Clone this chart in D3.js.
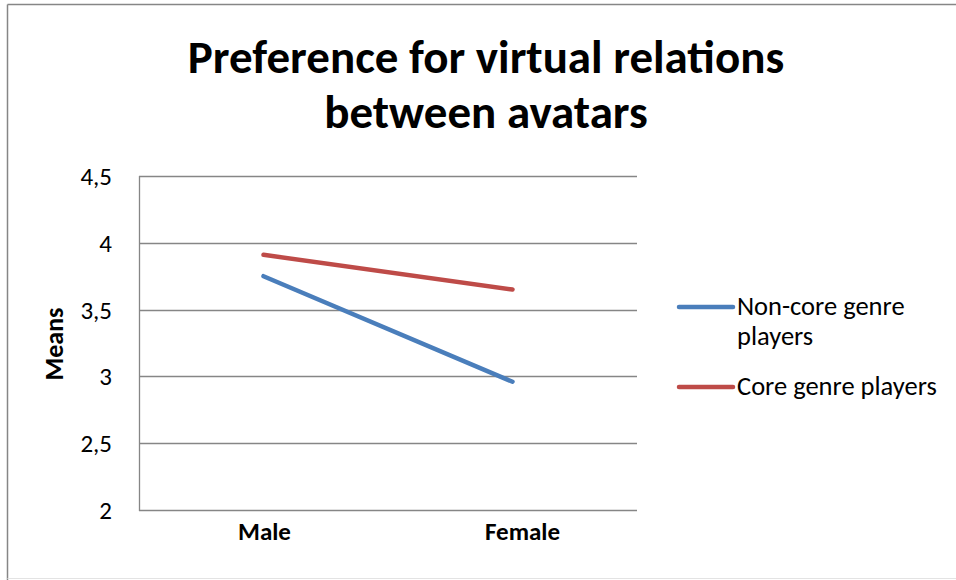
<!DOCTYPE html>
<html>
<head>
<meta charset="utf-8">
<script src="https://cdn.jsdelivr.net/npm/d3@7"></script>
<style>
  body { margin: 0; background: #fff; }
  text { font-family: Carlito, Calibri, Lato, sans-serif; fill: #000; }
</style>
</head>
<body>
<div class="lineChart"></div>
<script>
// chart data
let categories = ["Male", "Female"];
let nonCore = [3.75, 2.96];
let core = [3.91, 3.65];
let seriesNames = ["Non-core genre players", "Core genre players"];
let yTicks = [2, 2.5, 3, 3.5, 4, 4.5];

let width = 956;
let height = 580;

let svg = d3.select(".lineChart")
  .append("svg")
  .attr("width", width)
  .attr("height", height);

// chart frame (cropped on right side)
svg.append("line")
  .attr("x1", 7.5).attr("y1", 4.5).attr("x2", width).attr("y2", 4.5)
  .style("stroke", "#868686").style("stroke-width", 1.5);
svg.append("line")
  .attr("x1", 7.5).attr("y1", 4.5).attr("x2", 7.5).attr("y2", height)
  .style("stroke", "#868686").style("stroke-width", 1.5);
svg.append("line")
  .attr("x1", 7.5).attr("y1", 578.5).attr("x2", width).attr("y2", 578.5)
  .style("stroke", "#e3e3e3").style("stroke-width", 1);

// title
svg.append("text")
  .attr("text-anchor", "middle")
  .attr("x", 486)
  .attr("y", 73)
  .attr("font-size", 47)
  .attr("font-weight", "bold")
  .text("Preference for virtual relations");
svg.append("text")
  .attr("text-anchor", "middle")
  .attr("x", 486)
  .attr("y", 128)
  .attr("font-size", 47)
  .attr("font-weight", "bold")
  .text("between avatars");

let plotLeft = 139, plotRight = 637, plotTop = 176, plotBottom = 510;

let x = d3.scalePoint().domain(categories).range([plotLeft, plotRight]).padding(0.5);
let y = d3.scaleLinear().domain([2, 4.5]).range([plotBottom, plotTop]);

// gridlines
svg.selectAll(".grid")
  .data(yTicks)
  .enter().append("line")
  .attr("class", "grid")
  .attr("x1", plotLeft).attr("x2", plotRight)
  .attr("y1", function(d) { return Math.round(y(d)) + 0.5; })
  .attr("y2", function(d) { return Math.round(y(d)) + 0.5; })
  .style("stroke", "#868686")
  .style("stroke-width", 1.3);

// y axis line
svg.append("line")
  .attr("x1", plotLeft + 0.5).attr("x2", plotLeft + 0.5)
  .attr("y1", plotTop).attr("y2", plotBottom + 1)
  .style("stroke", "#868686")
  .style("stroke-width", 1.3);

// y tick labels
svg.selectAll(".ytick")
  .data(yTicks)
  .enter().append("text")
  .attr("class", "ytick")
  .attr("text-anchor", "end")
  .attr("x", 112)
  .attr("y", function(d) { return y(d); })
  .attr("dy", "0.36em")
  .attr("font-size", 25)
  .text(function(d) { return String(d).replace(".", ","); });

// x labels
svg.selectAll(".xtick")
  .data(categories)
  .enter().append("text")
  .attr("class", "xtick")
  .attr("text-anchor", "middle")
  .attr("x", function(d) { return x(d) + (d == "Female" ? 10 : 1); })
  .attr("y", 540)
  .attr("font-size", 25)
  .attr("font-weight", "bold")
  .text(String);

// y axis title
svg.append("text")
  .attr("text-anchor", "middle")
  .attr("transform", "translate(63,344) rotate(-90)")
  .attr("font-size", 26)
  .attr("font-weight", "bold")
  .text("Means");

// lines
let colors = ["#4A7EBB", "#BE4B48"];
let series = [nonCore, core];

let line = d3.line()
  .x(function(d, i) { return x(categories[i]); })
  .y(function(d) { return y(d); });

svg.selectAll(".series")
  .data(series)
  .enter().append("path")
  .attr("class", "series")
  .attr("d", line)
  .style("fill", "none")
  .style("stroke", function(d, i) { return colors[i]; })
  .style("stroke-width", 4.5)
  .style("stroke-linecap", "round");

// legend
let legendY = [307, 387];
let legendLines = [["Non-core genre", "players"], ["Core genre players"]];

let legend = svg.selectAll(".legend")
  .data(seriesNames)
  .enter().append("g")
  .attr("class", "legend")
  .attr("transform", function(d, i) { return "translate(0," + legendY[i] + ")"; });

legend.append("line")
  .attr("x1", 679).attr("x2", 733)
  .attr("y1", 0).attr("y2", 0)
  .style("stroke", function(d, i) { return colors[i]; })
  .style("stroke-width", 4.5)
  .style("stroke-linecap", "round");

legend.append("text")
  .attr("x", 737)
  .attr("y", 8)
  .attr("font-size", 26.5)
  .each(function(d, i) {
    d3.select(this).selectAll("tspan")
      .data(legendLines[i])
      .enter().append("tspan")
      .attr("x", 737)
      .attr("dy", function(t, j) { return j == 0 ? 0 : 30; })
      .text(String);
  });
</script>
</body>
</html>
